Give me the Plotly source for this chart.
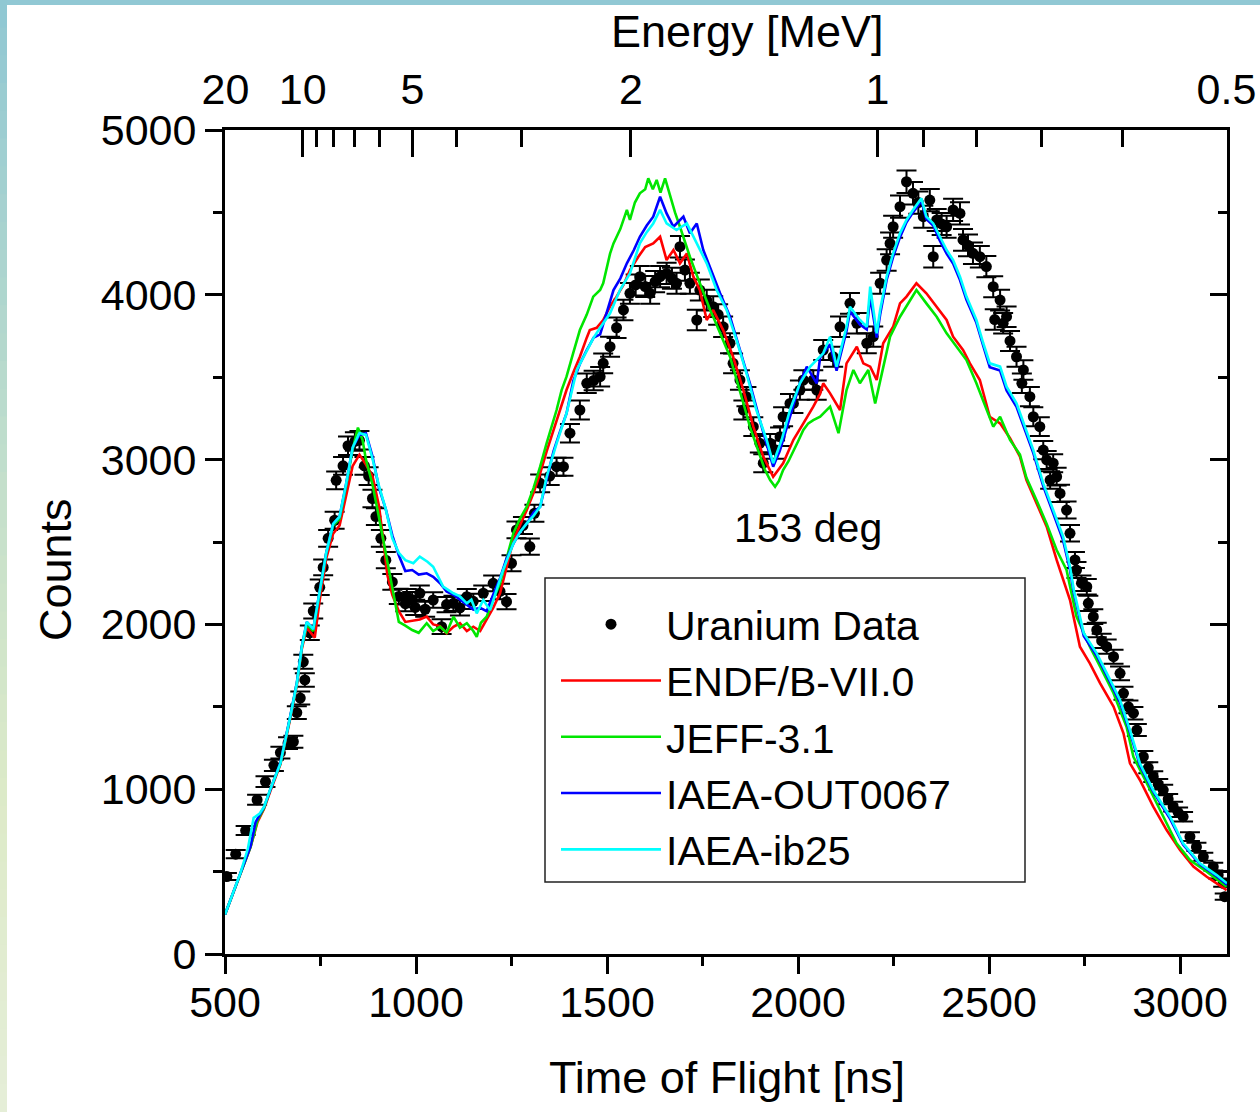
import math
import plotly.graph_objects as go

# ---------------- data ----------------
data_tof = [505, 528, 554, 584, 606, 628, 645, 665, 679, 688, 697, 705, 709, 722, 731, 748, 757, 770, 787, 791,
            809, 822, 840, 852, 865, 876, 886, 895, 908, 921, 938, 955, 972, 976, 990, 998, 1010, 1024, 1045, 1067,
            1080, 1098, 1115, 1133, 1150, 1176, 1202, 1220, 1237, 1250, 1263, 1280, 1298, 1310, 1325, 1350, 1368, 1386, 1403, 1429,
            1447, 1465, 1482, 1490, 1508, 1525, 1543, 1560, 1575, 1586, 1600, 1613, 1626, 1639, 1656, 1670, 1682, 1691, 1704, 1717,
            1735, 1743, 1761, 1778, 1791, 1804, 1822, 1830, 1848, 1857, 1865, 1883, 1900, 1909, 1927, 1940, 1953, 1961, 1979, 1988,
            2005, 2014, 2040, 2049, 2066, 2092, 2110, 2136, 2154, 2180, 2197, 2215, 2232, 2241, 2249, 2267, 2284, 2301, 2315, 2328,
            2345, 2354, 2363, 2376, 2389, 2406, 2424, 2432, 2445, 2458, 2476, 2493, 2511, 2515, 2529, 2537, 2546, 2555, 2572, 2586,
            2590, 2607, 2616, 2633, 2642, 2651, 2660, 2668, 2677, 2686, 2703, 2712, 2725, 2729, 2742, 2756, 2760, 2773, 2782, 2795,
            2808, 2826, 2843, 2852, 2865, 2878, 2887, 2904, 2917, 2930, 2943, 2956, 2969, 2982, 2995, 3008, 3026, 3043, 3061, 3087,
            3100, 3113, 3117]
data_counts = [470, 606, 749, 936, 1046, 1145, 1222, 1280, 1288, 1465, 1553, 1773, 1663, 1949, 2081, 2225, 2346, 2522, 2632, 2874,
               2962, 3084, 3110, 3117, 2962, 2900, 2764, 2654, 2522, 2390, 2258, 2170, 2126, 2168, 2150, 2103, 2189, 2092, 2148, 1986,
               2120, 2128, 2100, 2168, 2140, 2189, 2249, 2200, 2138, 2371, 2573, 2600, 2472, 2674, 2856, 2900, 2957, 2957, 3160, 3301,
               3463, 3480, 3503, 3584, 3685, 3800, 3908, 4009, 4060, 4110, 4050, 4009, 4080, 4110, 4130, 4100, 4070, 4292, 4150, 4070,
               3847, 4029, 3968, 3928, 3880, 3806, 3706, 3584, 3483, 3301, 3382, 3200, 3099, 2978, 3099, 3060, 3139, 3260, 3341, 3341,
               3422, 3483, 3483, 3422, 3665, 3624, 3806, 3948, 3827, 3706, 3746, 4070, 4211, 4312, 4413, 4535, 4686, 4616, 4560, 4474,
               4575, 4231, 4454, 4430, 4413, 4515, 4494, 4333, 4300, 4252, 4231, 4171, 4049, 3850, 3968, 3827, 3867, 3720, 3624, 3463,
               3544, 3382, 3260, 3200, 3058, 2998, 2876, 2978, 2896, 2795, 2694, 2553, 2391, 2330, 2250, 2229, 2128, 2047, 1966, 1900,
               1865, 1804, 1703, 1582, 1500, 1461, 1359, 1197, 1130, 1076, 1030, 995, 940, 894, 860, 833, 712, 650, 590, 530,
               480, 429, 348]

endf_tof = [500, 524, 541, 567, 585, 602, 619, 645, 671, 688, 701, 714, 735, 748, 765, 783, 800, 817, 834, 852,
            869, 886, 903, 915, 925, 938, 955, 972, 990, 1010, 1028, 1045, 1063, 1080, 1098, 1115, 1133, 1150, 1168, 1185,
            1202, 1220, 1237, 1255, 1272, 1290, 1308, 1325, 1342, 1360, 1377, 1394, 1412, 1429, 1447, 1455, 1473, 1490, 1508, 1525,
            1543, 1560, 1582, 1600, 1621, 1639, 1656, 1674, 1691, 1709, 1726, 1743, 1761, 1778, 1804, 1830, 1857, 1883, 1909, 1935,
            1961, 1988, 2014, 2040, 2058, 2066, 2084, 2110, 2127, 2154, 2171, 2189, 2206, 2223, 2249, 2267, 2284, 2310, 2336, 2363,
            2389, 2406, 2432, 2450, 2476, 2502, 2529, 2555, 2581, 2598, 2625, 2651, 2677, 2686, 2712, 2738, 2764, 2791, 2826, 2852,
            2869, 2895, 2930, 2965, 3000, 3035, 3070, 3122]
endf_counts = [240, 385, 495, 650, 800, 880, 990, 1150, 1430, 1630, 1850, 1980, 1920, 2150, 2400, 2550, 2600, 2780, 2960, 3030,
               2970, 2900, 2720, 2500, 2300, 2180, 2080, 2015, 2020, 2030, 2047, 2000, 1990, 1946, 1985, 2007, 1960, 1986, 1960, 2027,
               2100, 2189, 2350, 2512, 2600, 2694, 2800, 2917, 3050, 3180, 3300, 3422, 3530, 3624, 3740, 3786, 3800, 3847, 3930, 3989,
               4060, 4150, 4231, 4290, 4312, 4352, 4211, 4272, 4191, 4251, 4110, 4029, 3847, 3908, 3786, 3624, 3422, 3200, 3018, 2896,
               2978, 3120, 3220, 3321, 3400, 3463, 3402, 3301, 3584, 3685, 3584, 3564, 3483, 3706, 3806, 3948, 3989, 4070, 4009, 3928,
               3847, 3746, 3665, 3584, 3483, 3260, 3220, 3130, 3018, 2876, 2735, 2593, 2391, 2330, 2148, 1865, 1764, 1642, 1501, 1339,
               1157, 1056, 894, 752, 631, 530, 469, 388]

jeff_tof = [500, 524, 541, 567, 585, 602, 619, 645, 671, 688, 701, 714, 731, 748, 765, 783, 800, 817, 834, 848,
            860, 869, 886, 903, 921, 938, 955, 972, 990, 1007, 1028, 1045, 1063, 1080, 1098, 1115, 1133, 1150, 1159, 1170,
            1185, 1202, 1220, 1237, 1255, 1272, 1290, 1308, 1325, 1342, 1368, 1381, 1394, 1412, 1429, 1447, 1464, 1482, 1490, 1508,
            1517, 1535, 1552, 1560, 1573, 1586, 1600, 1608, 1620, 1630, 1640, 1652, 1665, 1678, 1691, 1704, 1717, 1730, 1743, 1757,
            1770, 1783, 1796, 1809, 1822, 1835, 1848, 1861, 1874, 1887, 1900, 1913, 1927, 1940, 1950, 1961, 1975, 1988, 2000, 2014,
            2027, 2040, 2058, 2084, 2106, 2127, 2145, 2162, 2184, 2202, 2223, 2241, 2267, 2293, 2310, 2336, 2363, 2389, 2415, 2441,
            2467, 2493, 2511, 2529, 2555, 2581, 2598, 2625, 2651, 2677, 2703, 2729, 2764, 2791, 2826, 2860, 2878, 2913, 2948, 2991,
            3026, 3070, 3122]
jeff_counts = [240, 385, 495, 650, 810, 885, 1000, 1155, 1440, 1640, 1860, 2000, 1960, 2190, 2430, 2600, 2640, 2840, 3060, 3194,
               3120, 3000, 2850, 2650, 2434, 2236, 2015, 1993, 1966, 1949, 2007, 1960, 1986, 1950, 2047, 1980, 2007, 1960, 1925, 2010,
               2047, 2150, 2249, 2400, 2553, 2640, 2714, 2830, 2957, 3100, 3301, 3420, 3503, 3650, 3786, 3880, 3989, 4029, 4070, 4250,
               4312, 4400, 4515, 4454, 4560, 4616, 4640, 4707, 4640, 4697, 4620, 4707, 4595, 4500, 4413, 4320, 4231, 4150, 4070, 3990,
               3908, 3840, 3766, 3700, 3624, 3520, 3422, 3310, 3200, 3110, 3018, 2940, 2876, 2835, 2870, 2937, 2990, 3058, 3110, 3180,
               3220, 3240, 3260, 3321, 3160, 3422, 3544, 3463, 3544, 3341, 3564, 3746, 3867, 3968, 4029, 3948, 3867, 3766, 3685, 3604,
               3463, 3301, 3200, 3260, 3119, 3030, 2890, 2750, 2610, 2451, 2330, 2047, 1865, 1744, 1582, 1379, 1197, 1036, 874, 672,
               570, 499, 408]

out67_tof = [500, 524, 541, 567, 580, 602, 619, 645, 671, 688, 701, 714, 731, 748, 765, 783, 800, 817, 834, 852,
             869, 886, 903, 921, 938, 955, 972, 990, 1007, 1028, 1045, 1063, 1080, 1098, 1115, 1133, 1150, 1168, 1185, 1202,
             1220, 1237, 1255, 1272, 1290, 1308, 1325, 1342, 1360, 1377, 1394, 1412, 1429, 1447, 1465, 1482, 1500, 1517, 1535, 1552,
             1570, 1586, 1604, 1621, 1639, 1656, 1674, 1700, 1717, 1735, 1752, 1778, 1796, 1822, 1848, 1874, 1900, 1918, 1935, 1953,
             1979, 2005, 2023, 2049, 2058, 2084, 2101, 2127, 2136, 2162, 2180, 2189, 2206, 2215, 2232, 2249, 2267, 2284, 2301, 2323,
             2336, 2354, 2371, 2389, 2406, 2424, 2441, 2467, 2485, 2502, 2529, 2546, 2572, 2590, 2616, 2642, 2668, 2694, 2712, 2722,
             2748, 2782, 2817, 2843, 2869, 2895, 2930, 2974, 3008, 3052, 3096, 3123]
out67_counts = [240, 385, 495, 655, 800, 890, 1000, 1160, 1445, 1645, 1865, 2015, 1971, 2191, 2434, 2610, 2654, 2852, 3072, 3150,
                3160, 3020, 2830, 2698, 2540, 2420, 2324, 2330, 2302, 2310, 2289, 2250, 2200, 2180, 2150, 2120, 2090, 2100, 2080, 2180,
                2280, 2400, 2490, 2560, 2613, 2680, 2714, 2880, 3050, 3170, 3280, 3480, 3580, 3665, 3740, 3760, 3900, 4029, 4100, 4191,
                4270, 4352, 4420, 4474, 4595, 4494, 4413, 4474, 4373, 4433, 4272, 4110, 4009, 3867, 3665, 3463, 3240, 3099, 2957, 3058,
                3260, 3463, 3564, 3463, 3620, 3700, 3540, 3780, 3900, 3820, 3790, 3990, 3740, 3880, 4090, 4230, 4350, 4440, 4500, 4570,
                4460, 4420, 4330, 4250, 4190, 4090, 3970, 3830, 3690, 3560, 3540, 3420, 3320, 3200, 3040, 2840, 2680, 2510, 2330, 2190,
                1930, 1810, 1650, 1525, 1345, 1145, 985, 820, 665, 545, 472, 420]

ib25_tof = [500, 524, 541, 560, 575, 590, 602, 619, 645, 671, 688, 701, 714, 731, 748, 765, 783, 800, 817, 834,
            852, 869, 886, 903, 921, 938, 955, 972, 993, 1010, 1030, 1045, 1071, 1098, 1115, 1133, 1145, 1159, 1176, 1194,
            1211, 1228, 1255, 1272, 1290, 1308, 1325, 1342, 1368, 1394, 1421, 1447, 1465, 1482, 1508, 1534, 1560, 1586, 1604, 1621,
            1639, 1656, 1682, 1709, 1735, 1761, 1787, 1813, 1839, 1865, 1891, 1918, 1935, 1957, 1979, 2005, 2032, 2058, 2066, 2084,
            2101, 2127, 2136, 2162, 2180, 2189, 2206, 2215, 2232, 2249, 2267, 2284, 2301, 2323, 2336, 2354, 2371, 2389, 2406, 2424,
            2441, 2467, 2485, 2502, 2529, 2546, 2572, 2590, 2616, 2642, 2668, 2694, 2712, 2722, 2748, 2782, 2817, 2843, 2869, 2895,
            2930, 2974, 3008, 3052, 3096, 3123]
ib25_counts = [240, 385, 495, 640, 826, 850, 892, 1002, 1156, 1443, 1641, 1861, 2015, 1971, 2191, 2434, 2610, 2654, 2852, 3072,
               3161, 3150, 3007, 2840, 2698, 2522, 2434, 2390, 2371, 2411, 2380, 2350, 2229, 2189, 2170, 2128, 2150, 2067, 2148, 2087,
               2209, 2330, 2492, 2560, 2613, 2660, 2714, 2896, 3099, 3280, 3544, 3665, 3740, 3800, 3888, 4029, 4130, 4312, 4380, 4433,
               4515, 4433, 4393, 4433, 4312, 4191, 4029, 3908, 3726, 3524, 3301, 3119, 2978, 3119, 3301, 3463, 3564, 3624, 3645, 3746,
               3564, 3806, 3928, 3847, 3806, 4049, 3766, 3908, 4110, 4252, 4373, 4454, 4515, 4585, 4474, 4433, 4352, 4272, 4211, 4110,
               3989, 3847, 3706, 3584, 3564, 3443, 3341, 3220, 3058, 2856, 2694, 2532, 2350, 2209, 1946, 1824, 1663, 1541, 1359, 1157,
               995, 833, 672, 550, 479, 429]

x_ticks = [500, 1000, 1500, 2000, 2500, 3000]
y_ticks = [0, 1000, 2000, 3000, 4000, 5000]
energy_major = [20, 10, 5, 2, 1, 0.5]
energy_major_labels = ["20", "10", "5", "2", "1", "0.5"]
energy_minor = [9, 8, 7, 6, 4, 3, 0.9, 0.8, 0.7, 0.6]

# flight path expressed as light travel time (ns); neutron rest mass (MeV)
L_OVER_C = 101.8
M_N = 939.565


def tof_of_energy(e):
    g = 1.0 + e / M_N
    beta = math.sqrt(1.0 - 1.0 / (g * g))
    return L_OVER_C / beta


FONT = "Liberation Sans, Arial, sans-serif"
X_RANGE = [500, 3123]
Y_RANGE = [0, 5000]

fig = go.Figure()
fig.add_trace(go.Scatter(
    x=data_tof, y=data_counts, mode="markers", name="Uranium Data",
    marker=dict(color="black", size=11),
    error_y=dict(type="sqrt", color="black", thickness=2, width=10),
))
for name, xs, ys, col in [
    ("ENDF/B-VII.0", endf_tof, endf_counts, "#ff0000"),
    ("JEFF-3.1", jeff_tof, jeff_counts, "#00e600"),
    ("IAEA-OUT0067", out67_tof, out67_counts, "#0000ff"),
    ("IAEA-ib25", ib25_tof, ib25_counts, "#00ffff"),
]:
    fig.add_trace(go.Scatter(x=xs, y=ys, mode="lines", name=name,
                             line=dict(color=col, width=2.6)))

# empty trace to hold the secondary (top/right) axes
fig.add_trace(go.Scatter(x=[], y=[], xaxis="x2", yaxis="y2", showlegend=False, hoverinfo="skip"))

W, H = 1260, 1112
ML, MR, MT, MB = 225, 33, 130, 158
PW, PH = W - ML - MR, H - MT - MB


def px(xp):
    return (xp - ML) / PW


def py(yp):
    return (H - MB - yp) / PH


# decorative slide border: top band and left vertical gradient stripe
shapes = [dict(type="rect", xref="paper", yref="paper", x0=px(0), x1=px(W), y0=py(5), y1=py(0),
               fillcolor="#91c8d4", line=dict(width=0), layer="below")]
stops = [(0, (143, 199, 211)), (0.45, (197, 224, 203)), (0.72, (221, 234, 200)), (1.0, (229, 238, 216))]
NB = 40
for i in range(NB):
    f = (i + 0.5) / NB
    for j in range(len(stops) - 1):
        if stops[j][0] <= f <= stops[j + 1][0]:
            a, ca = stops[j]
            b, cb = stops[j + 1]
            t = (f - a) / (b - a)
            c = tuple(int(round(ca[k] + (cb[k] - ca[k]) * t)) for k in range(3))
            break
    shapes.append(dict(type="rect", xref="paper", yref="paper", x0=px(0), x1=px(7),
                       y0=py(H * (i + 1) / NB + 0.5), y1=py(H * i / NB - 0.5),
                       fillcolor="rgb(%d,%d,%d)" % c, line=dict(width=0), layer="below"))

# legend frame
shapes.append(dict(type="rect", xref="paper", yref="paper", x0=px(545), x1=px(1025), y0=py(882), y1=py(578),
                   fillcolor="white", line=dict(color="#222222", width=1.5), layer="above"))

tick_font = dict(family=FONT, size=43, color="black")
title_font = dict(family=FONT, size=45, color="black")

fig.update_layout(
    width=W, height=H,
    margin=dict(l=ML, r=MR, t=MT, b=MB, autoexpand=False),
    paper_bgcolor="white", plot_bgcolor="white",
    font=dict(family=FONT, size=42, color="black"),
    showlegend=True,
    legend=dict(x=px(556), y=py(591), xanchor="left", yanchor="top",
                bgcolor="rgba(0,0,0,0)", borderwidth=0,
                font=dict(family=FONT, size=41, color="black"),
                itemwidth=100, tracegroupgap=0),
    xaxis=dict(range=X_RANGE, tickmode="array", tickvals=x_ticks, ticks="outside", ticklen=17, tickwidth=3,
               tickcolor="black", showline=True, linecolor="black", linewidth=3, showgrid=False, zeroline=False,
               tickfont=tick_font, automargin=False, ticklabelstandoff=-9,
               minor=dict(dtick=250, tick0=500, ticks="outside", ticklen=9, tickwidth=3, tickcolor="black")),
    xaxis2=dict(range=X_RANGE, overlaying="x", side="top", anchor="y",
                tickmode="array", tickvals=[tof_of_energy(e) for e in energy_major], ticktext=energy_major_labels,
                ticks="inside", ticklen=27, tickwidth=3, tickcolor="black", showline=True, linecolor="black",
                linewidth=3, showgrid=False, zeroline=False, tickfont=tick_font, ticklabelstandoff=6,
                automargin=False,
                minor=dict(tickmode="array", tickvals=[tof_of_energy(e) for e in energy_minor],
                           ticks="inside", ticklen=17, tickwidth=3, tickcolor="black")),
    yaxis=dict(range=Y_RANGE, tickmode="array", tickvals=y_ticks, ticks="outside", ticklen=17, tickwidth=3,
               tickcolor="black", showline=True, linecolor="black", linewidth=3, showgrid=False, zeroline=False,
               tickfont=tick_font, automargin=False,
               minor=dict(dtick=500, tick0=0, ticks="outside", ticklen=9, tickwidth=3, tickcolor="black")),
    yaxis2=dict(range=Y_RANGE, overlaying="y", side="right", anchor="x", tickmode="array", tickvals=y_ticks,
                ticks="inside", ticklen=17, tickwidth=3, tickcolor="black", showline=True, linecolor="black",
                linewidth=3, showgrid=False, zeroline=False, showticklabels=False, automargin=False,
                minor=dict(dtick=500, tick0=0, ticks="inside", ticklen=9, tickwidth=3, tickcolor="black")),
    shapes=shapes,
    annotations=[
        dict(text="Energy [MeV]", xref="paper", yref="paper", x=px(747), y=py(32), showarrow=False,
             xanchor="center", yanchor="middle", font=title_font),
        dict(text="Time of Flight [ns]", xref="paper", yref="paper", x=px(727), y=py(1077), showarrow=False,
             xanchor="center", yanchor="middle", font=title_font),
        dict(text="Counts", xref="paper", yref="paper", x=px(55), y=py(570), showarrow=False, textangle=-90,
             xanchor="center", yanchor="middle", font=title_font),
        dict(text="153 deg", xref="x", yref="y", x=2026, y=2585, showarrow=False,
             xanchor="center", yanchor="middle", font=dict(family=FONT, size=41, color="black")),
    ],
)

fig.write_html("out.html")
